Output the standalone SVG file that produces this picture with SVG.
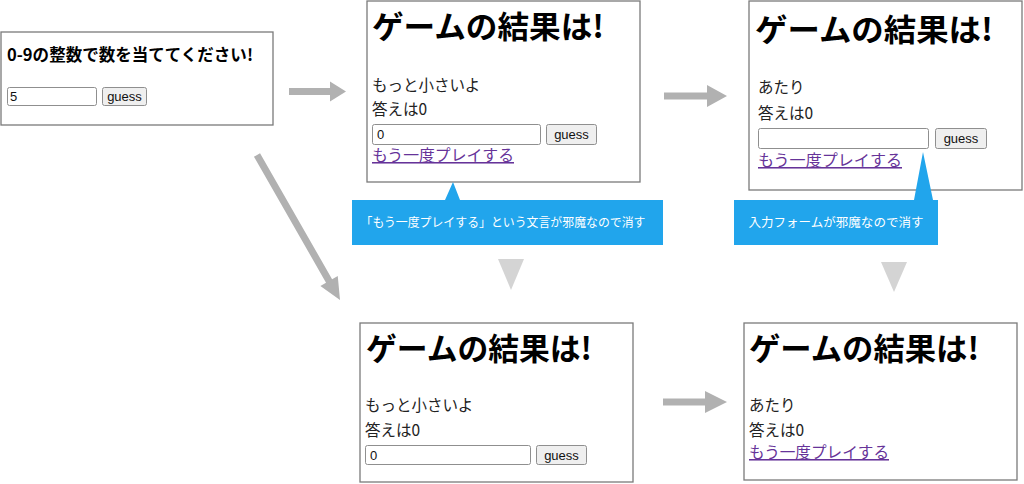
<svg xmlns="http://www.w3.org/2000/svg" width="1024" height="484" viewBox="0 0 1024 484">
<style>
.frame{fill:#fff;stroke:#7a7a7a;stroke-width:1.3}
.h1{font-family:"Noto Sans CJK JP","Noto Sans",sans-serif;font-weight:700;font-size:31px;fill:#000}
.h3{font-family:"Noto Sans CJK JP","Noto Sans",sans-serif;font-weight:700;font-size:16.5px;fill:#000}
.body{font-family:"Noto Sans CJK JP","Noto Sans",sans-serif;font-size:15.5px;fill:#222}
.link{font-family:"Noto Sans CJK JP","Noto Sans",sans-serif;font-size:15.5px;fill:#663399;text-decoration:underline}
.inp{fill:#fff;stroke:#8f8f8f;stroke-width:1}
.btn{fill:#efefef;stroke:#8f8f8f;stroke-width:1}
.ui{font-family:"Liberation Sans",Arial,sans-serif;font-size:13px;fill:#111}
.callout{fill:#21a5ec}
.ctext{font-family:"Noto Sans CJK JP","Noto Sans",sans-serif;font-size:12.5px;fill:#fff}
.arrow{fill:#b1b1b1}
.tri{fill:#d4d4d4}
</style>

<g id="connectors">
<polygon class="arrow" points="289,88 330,88 330,81.5 346,91.5 330,101.5 330,95 289,95"/>
<polygon class="arrow" points="664,92.5 707,92.5 707,85 727,96 707,107 707,99.5 664,99.5"/>
<polygon class="arrow" points="663,398.5 705,398.5 705,391 727,402 705,413 705,405.5 663,405.5"/>
<polygon class="arrow" points="260.04,153.26 332.11,279.17 337.75,275.94 340,300 320.39,285.88 326.03,282.65 253.96,156.74"/>
<polygon class="tri" points="498,259 524,259 511,290"/>
<polygon class="tri" points="881,262 907,262 894,292"/>
</g>

<g id="start">
<rect class="frame" x="1" y="32" width="272" height="93"/>
<text class="h3" x="7" y="61" textLength="246" lengthAdjust="spacingAndGlyphs">0-9の整数で数を当ててください!</text>
<rect class="inp" x="7.5" y="87.5" width="89" height="18" rx="2"/>
<text class="ui" x="10" y="101">5</text>
<rect class="btn" x="102.5" y="87.5" width="44" height="18" rx="2"/>
<text class="ui" x="124.5" y="101" text-anchor="middle">guess</text>
</g>

<g id="result-smaller">
<rect class="frame" x="367" y="1" width="273" height="181"/>
<text class="h1" x="372" y="38" textLength="232" lengthAdjust="spacingAndGlyphs">ゲームの結果は!</text>
<text class="body" x="372" y="91">もっと小さいよ</text>
<text class="body" x="372" y="115">答えは0</text>
<rect class="inp" x="372.5" y="124.5" width="168" height="20" rx="2"/>
<text class="ui" x="377" y="139">0</text>
<rect class="btn" x="546.5" y="124.5" width="50" height="20" rx="2"/>
<text class="ui" x="571.5" y="139" text-anchor="middle">guess</text>
<text class="link" x="372" y="161" textLength="142" lengthAdjust="spacingAndGlyphs">もう一度プレイする</text>
</g>

<g id="result-hit">
<rect class="frame" x="749" y="1" width="273" height="189"/>
<text class="h1" x="755" y="41" textLength="238" lengthAdjust="spacingAndGlyphs">ゲームの結果は!</text>
<text class="body" x="758" y="93">あたり</text>
<text class="body" x="758" y="119">答えは0</text>
<rect class="inp" x="758.5" y="128.5" width="170" height="20" rx="2"/>
<rect class="btn" x="935.5" y="128.5" width="51" height="20" rx="2"/>
<text class="ui" x="961" y="143" text-anchor="middle">guess</text>
<text class="link" x="758" y="166" textLength="144" lengthAdjust="spacingAndGlyphs">もう一度プレイする</text>
</g>

<g id="note-link">
<path class="callout" d="M352,200 H445 L453,182 L460,200 H663 V245 H352 Z"/>
<text class="ctext" x="503" y="227" text-anchor="middle" textLength="285" lengthAdjust="spacingAndGlyphs">「もう一度プレイする」という文言が邪魔なので消す</text>
</g>

<g id="note-form">
<path class="callout" d="M734,200 H914 L923,152 L933,200 H938 V245 H734 Z"/>
<text class="ctext" x="836" y="227" text-anchor="middle" textLength="175" lengthAdjust="spacingAndGlyphs">入力フォームが邪魔なので消す</text>
</g>

<g id="fixed-smaller">
<rect class="frame" x="360" y="323" width="273" height="159"/>
<text class="h1" x="366" y="360" textLength="226" lengthAdjust="spacingAndGlyphs">ゲームの結果は!</text>
<text class="body" x="365" y="411">もっと小さいよ</text>
<text class="body" x="365" y="436">答えは0</text>
<rect class="inp" x="365.5" y="445.5" width="165" height="19" rx="2"/>
<text class="ui" x="370" y="459.5">0</text>
<rect class="btn" x="536.5" y="445.5" width="50" height="19" rx="2"/>
<text class="ui" x="561.5" y="459.5" text-anchor="middle">guess</text>
</g>

<g id="fixed-hit">
<rect class="frame" x="744" y="323" width="273" height="157"/>
<text class="h1" x="749" y="360" textLength="230" lengthAdjust="spacingAndGlyphs">ゲームの結果は!</text>
<text class="body" x="749" y="411">あたり</text>
<text class="body" x="749" y="436">答えは0</text>
<text class="link" x="749" y="458" textLength="140" lengthAdjust="spacingAndGlyphs">もう一度プレイする</text>
</g>
</svg>
